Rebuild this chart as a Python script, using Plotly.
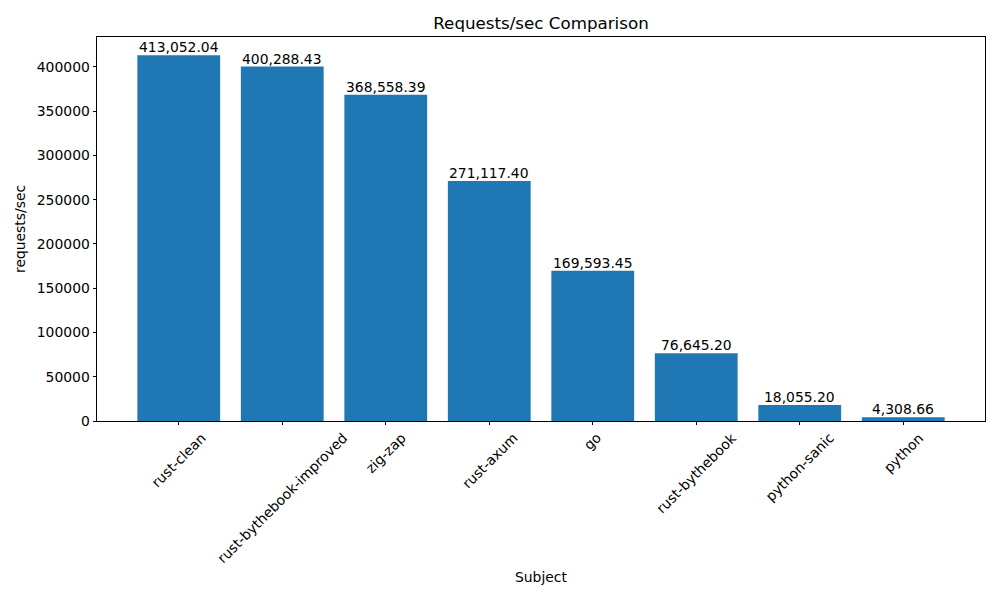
import plotly.graph_objects as go

BLUE = "#1f77b4"
FONT = "DejaVu Sans"

subjects = ["rust-clean", "rust-bythebook-improved", "zig-zap", "rust-axum",
            "go", "rust-bythebook", "python-sanic", "python"]
requests_per_sec = [413052.04, 400288.43, 368558.39, 271117.40,
                    169593.45, 76645.20, 18055.20, 4308.66]
y_ticks = [0, 50000, 100000, 150000, 200000, 250000, 300000, 350000, 400000]

# page body has an 8px margin, so the figure is 992x584 placed at (8, 8)
W, H = 992, 584
PAD = 8

fig = go.Figure(go.Bar(
    x=list(range(len(subjects))),
    y=requests_per_sec,
    width=0.8,
    marker_color=BLUE,
    marker_line_width=0,
))

# value labels sitting right on top of each bar
for i, v in enumerate(requests_per_sec):
    fig.add_annotation(
        x=i, y=v, xref="x", yref="y", text=f"{v:,.2f}",
        xanchor="center", yanchor="bottom", yshift=-2, showarrow=False,
        font=dict(family=FONT, size=13.9, color="black"),
    )

# category labels rotated 45 degrees, centred under each tick (matplotlib style)
for i, name in enumerate(subjects):
    fig.add_annotation(
        x=i, y=0, xref="x", yref="paper",
        text=name, textangle=-45,
        xanchor="center", yanchor="top", yshift=-6,
        showarrow=False,
        font=dict(family=FONT, size=13.9, color="black"),
    )

fig.add_annotation(
    x=0.5, y=0, xref="paper", yref="paper", text="Subject",
    xanchor="center", yanchor="middle", yshift=-156, showarrow=False,
    font=dict(family=FONT, size=13.9, color="black"),
)
fig.add_annotation(
    x=0, y=0.5, xref="paper", yref="paper", text="requests/sec",
    textangle=-90, xanchor="center", yanchor="middle", xshift=-77,
    showarrow=False, font=dict(family=FONT, size=13.9, color="black"),
)

fig.update_xaxes(
    range=[-0.79, len(subjects) - 1 + 0.79],
    tickvals=list(range(len(subjects))),
    showticklabels=False,
    ticks="outside", ticklen=3.5, tickwidth=0.8, tickcolor="black",
    showline=True, mirror=True, linecolor="black", linewidth=0.8,
    showgrid=False, zeroline=False,
)
fig.update_yaxes(
    range=[0, max(requests_per_sec) * 1.05],
    tickvals=y_ticks, tickformat="d",
    ticks="outside", ticklen=3.5, tickwidth=0.8, tickcolor="black",
    tickfont=dict(family=FONT, size=13.9, color="black"),
    showline=True, mirror=True, linecolor="black", linewidth=0.8,
    showgrid=False, zeroline=False,
)
fig.update_layout(
    title=dict(text="Requests/sec Comparison", x=(541 - PAD) / W,
               xanchor="center", y=1 - (23 - PAD) / H, yanchor="middle",
               font=dict(family=FONT, size=16.7, color="black")),
    width=W, height=H,
    margin=dict(l=97 - PAD, r=15, t=37 - PAD, b=PAD + H - 421),
    plot_bgcolor="white", paper_bgcolor="white",
    showlegend=False,
    font=dict(family=FONT, color="black"),
)

fig.write_html("out.html")
